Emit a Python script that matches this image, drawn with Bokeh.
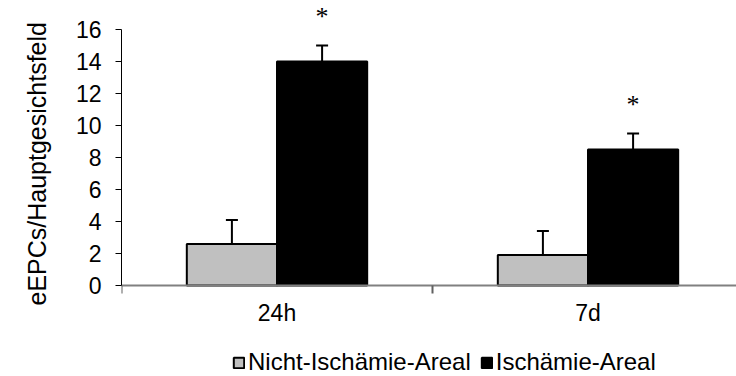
from bokeh.plotting import figure
from bokeh.models import (Range1d, FixedTicker, SingleIntervalTicker, Whisker, TeeHead,
                          ColumnDataSource, LabelSet, Legend, LegendItem, Title)
from bokeh.embed import file_html
from bokeh.resources import INLINE

# ---- data ----
groups = ["24h", "7d"]
nicht_vals = [2.6, 1.9]
nicht_err = [1.5, 1.5]
isch_vals = [14.0, 8.5]
isch_err = [1.0, 1.0]
stars = ["*", "*"]
series_names = ["Nicht-Ischämie-Areal", "Ischämie-Areal"]
y_label = "eEPCs/Hauptgesichtsfeld"

FONT = "Liberation Sans"
bar_w = 0.29
centers = [i + 0.5 for i in range(len(groups))]
x_n = [c - bar_w / 2 for c in centers]
x_i = [c + bar_w / 2 for c in centers]

W, H = 736, 376
LEFT = 121
ZERO_PX = 285      # px of y = 0 from top
PX_PER_UNIT = 16.0
CAT_PX = 311.0

p = figure(width=W, height=H, output_backend="svg", toolbar_location=None,
           x_range=Range1d(0, (W - LEFT) / CAT_PX),
           y_range=Range1d(-(H - ZERO_PX) / PX_PER_UNIT, ZERO_PX / PX_PER_UNIT),
           min_border_left=LEFT, min_border_right=0, min_border_top=0,
           min_border_bottom=0)
p.outline_line_color = None
p.xgrid.grid_line_color = None
p.ygrid.grid_line_color = None

src_n = ColumnDataSource(dict(x=x_n, top=nicht_vals,
                              up=[v + e for v, e in zip(nicht_vals, nicht_err)]))
src_i = ColumnDataSource(dict(x=x_i, top=isch_vals,
                              up=[v + e for v, e in zip(isch_vals, isch_err)],
                              star=stars))

r_n = p.vbar(x="x", top="top", width=bar_w, source=src_n, fill_color="#C0C0C0",
             line_color="black", line_width=2)
r_i = p.vbar(x="x", top="top", width=bar_w, source=src_i, fill_color="black",
             line_color="black", line_width=2)

for src in (src_n, src_i):
    w = Whisker(source=src, base="x", lower="top", upper="up", dimension="height",
                line_width=2, line_color="black",
                upper_head=TeeHead(size=12, line_width=2, line_color="black"),
                lower_head=None)
    p.add_layout(w)

labels = LabelSet(x="x", y="up", text="star", source=src_i, text_align="center",
                  text_baseline="bottom", y_offset=15, text_font=FONT,
                  text_font_size="26px", text_color="black")
p.add_layout(labels)

# axes
p.yaxis.ticker = SingleIntervalTicker(interval=2)
p.yaxis.bounds = (0, 16)
p.yaxis.axis_line_color = "black"
p.yaxis.major_tick_out = 6
p.yaxis.major_tick_in = 0
p.yaxis.minor_tick_line_color = None
p.yaxis.major_label_text_font = FONT
p.yaxis.major_label_text_font_size = "23px"
p.yaxis.major_label_text_color = "black"
p.yaxis.major_label_standoff = 14

ylab = Title(text=y_label, align="left", offset=71, standoff=40,
             vertical_align="top",
             text_font=FONT, text_font_size="25px", text_font_style="normal",
             text_color="black")
p.add_layout(ylab, "left")

p.xaxis.fixed_location = 0
p.xaxis.ticker = FixedTicker(ticks=centers, minor_ticks=[0, 1, 2])
p.xaxis.major_label_overrides = {c: g for c, g in zip(centers, groups)}
p.xaxis.axis_line_color = "#808080"
p.xaxis.axis_line_width = 2
p.xaxis.major_tick_out = 0
p.xaxis.major_tick_in = 0
p.xaxis.minor_tick_out = 8
p.xaxis.minor_tick_in = 0
p.xaxis.minor_tick_line_color = "#606060"
p.xaxis.minor_tick_line_width = 2
p.xaxis.major_label_text_font = FONT
p.xaxis.major_label_text_font_size = "23px"
p.xaxis.major_label_text_color = "black"
p.xaxis.major_label_standoff = 6

legend = Legend(items=[LegendItem(label=series_names[0], renderers=[r_n]),
                       LegendItem(label=series_names[1], renderers=[r_i])],
                orientation="horizontal", location=(111, 0),
                glyph_width=13, glyph_height=13, label_standoff=3, spacing=9,
                padding=0, margin=0, border_line_color=None,
                background_fill_alpha=0,
                label_text_font=FONT, label_text_font_size="24px",
                label_text_color="black")
p.add_layout(legend, "center")

open("out.html", "w").write(file_html(p, INLINE))
